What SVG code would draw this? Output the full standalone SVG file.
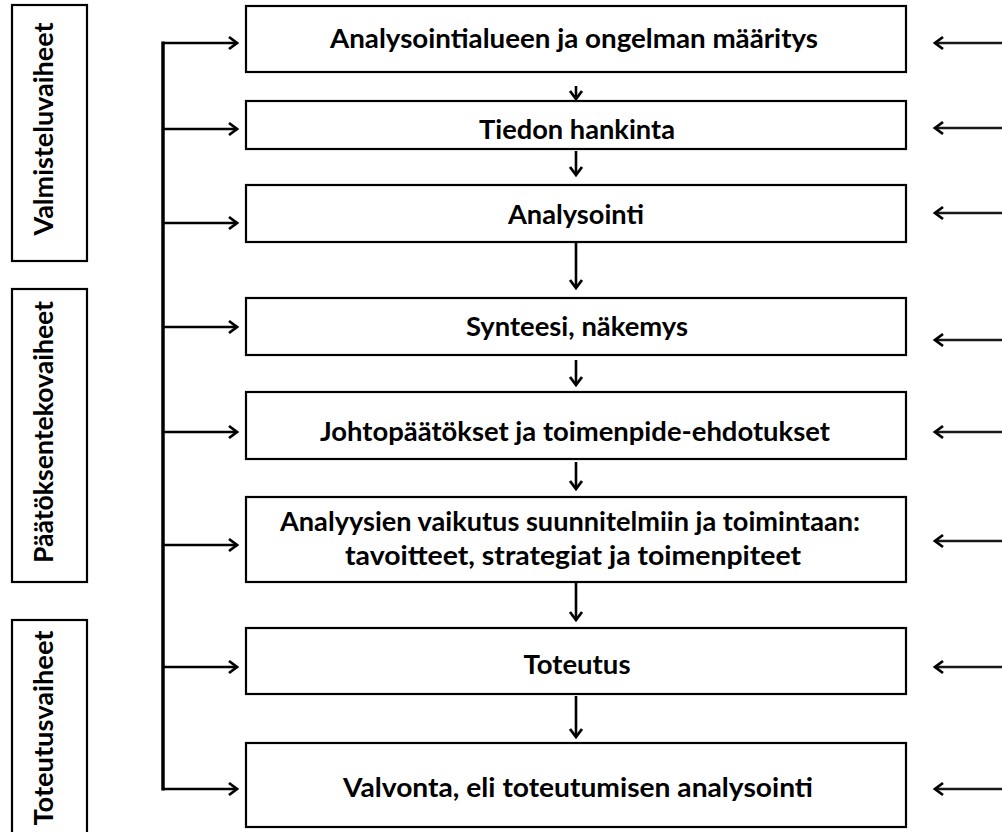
<svg xmlns="http://www.w3.org/2000/svg" width="1002" height="832" viewBox="0 0 1002 832">
<style>
.box{fill:#fff;stroke:#000;stroke-width:2.2}
.t{font-family:Lato,"Open Sans","Liberation Sans",sans-serif;font-weight:700;font-size:27px;fill:#000;text-anchor:middle}
.ln{stroke:#000;stroke-width:2.6;fill:none}
.rl{stroke:#1a1a1a;stroke-width:2.6;fill:none}
.hd{stroke:#000;stroke-width:2.8;fill:none;stroke-linecap:butt;stroke-linejoin:miter}
</style>
<rect width="1002" height="832" fill="#fff"/>
<g id="phase-valmistelu">
<rect class="box" x="12" y="5" width="75" height="256"/>
<text class="t" transform="translate(53,129) rotate(-90)" textLength="213" lengthAdjust="spacingAndGlyphs">Valmisteluvaiheet</text>
</g>
<g id="phase-paatoksenteko">
<rect class="box" x="12" y="289" width="75" height="293"/>
<text class="t" transform="translate(53,432) rotate(-90)" textLength="262" lengthAdjust="spacingAndGlyphs">Päätöksentekovaiheet</text>
</g>
<g id="phase-toteutus">
<rect class="box" x="12" y="620" width="75" height="218"/>
<text class="t" transform="translate(53,728) rotate(-90)" textLength="195" lengthAdjust="spacingAndGlyphs">Toteutusvaiheet</text>
</g>
<g id="n1"><rect class="box" x="246" y="6" width="660" height="66"/><text class="t" x="574" y="48" textLength="488" lengthAdjust="spacingAndGlyphs">Analysointialueen ja ongelman määritys</text></g>
<g id="n2"><rect class="box" x="246" y="101" width="660" height="48"/><text class="t" x="577" y="139" textLength="196" lengthAdjust="spacingAndGlyphs">Tiedon hankinta</text></g>
<g id="n3"><rect class="box" x="246" y="185" width="660" height="57"/><text class="t" x="576" y="224" textLength="136" lengthAdjust="spacingAndGlyphs">Analysointi</text></g>
<g id="n4"><rect class="box" x="246" y="298" width="660" height="57"/><text class="t" x="577" y="336" textLength="222" lengthAdjust="spacingAndGlyphs">Synteesi, näkemys</text></g>
<g id="n5"><rect class="box" x="246" y="392" width="660" height="67"/><text class="t" x="575" y="441" textLength="510" lengthAdjust="spacingAndGlyphs">Johtopäätökset ja toimenpide-ehdotukset</text></g>
<g id="n6"><rect class="box" x="246" y="497" width="660" height="85"/><text class="t" x="570" y="531" textLength="580" lengthAdjust="spacingAndGlyphs">Analyysien vaikutus suunnitelmiin ja toimintaan:</text><text class="t" x="573" y="565" textLength="456" lengthAdjust="spacingAndGlyphs">tavoitteet, strategiat ja toimenpiteet</text></g>
<g id="n7"><rect class="box" x="246" y="628" width="660" height="66"/><text class="t" x="577" y="674" textLength="107" lengthAdjust="spacingAndGlyphs">Toteutus</text></g>
<g id="n8"><rect class="box" x="246" y="743" width="660" height="84"/><text class="t" x="578" y="797" textLength="470" lengthAdjust="spacingAndGlyphs">Valvonta, eli toteutumisen analysointi</text></g>
<g id="connectors">
<line x1="163" y1="41.5" x2="163" y2="790.5" stroke="#000" stroke-width="3.5"/>
<g class="ln">
<line x1="163" y1="43" x2="236" y2="43"/>
<line x1="163" y1="129" x2="236" y2="129"/>
<line x1="163" y1="223" x2="236" y2="223"/>
<line x1="163" y1="327" x2="236" y2="327"/>
<line x1="163" y1="432" x2="236" y2="432"/>
<line x1="163" y1="545" x2="236" y2="545"/>
<line x1="163" y1="667" x2="236" y2="667"/>
<line x1="163" y1="789" x2="236" y2="789"/>
</g>
<g class="hd">
<polyline points="229,37 237,43 229,49"/>
<polyline points="229,123 237,129 229,135"/>
<polyline points="229,217 237,223 229,229"/>
<polyline points="229,321 237,327 229,333"/>
<polyline points="229,426 237,432 229,438"/>
<polyline points="229,539 237,545 229,551"/>
<polyline points="229,661 237,667 229,673"/>
<polyline points="229,783 237,789 229,795"/>
</g>
<g class="rl">
<line x1="1002" y1="43" x2="937" y2="43"/>
<line x1="1002" y1="128" x2="937" y2="128"/>
<line x1="1002" y1="213" x2="937" y2="213"/>
<line x1="1002" y1="340" x2="937" y2="340"/>
<line x1="1002" y1="432" x2="937" y2="432"/>
<line x1="1002" y1="541" x2="937" y2="541"/>
<line x1="1002" y1="667" x2="937" y2="667"/>
<line x1="1002" y1="789" x2="937" y2="789"/>
</g>
<g class="hd">
<polyline points="943,37 935,43 943,49"/>
<polyline points="943,122 935,128 943,134"/>
<polyline points="943,207 935,213 943,219"/>
<polyline points="943,334 935,340 943,346"/>
<polyline points="943,426 935,432 943,438"/>
<polyline points="943,535 935,541 943,547"/>
<polyline points="943,661 935,667 943,673"/>
<polyline points="943,783 935,789 943,795"/>
</g>
<g class="ln">
<line x1="576" y1="86" x2="576" y2="98"/>
<line x1="576" y1="151" x2="576" y2="174"/>
<line x1="576" y1="243" x2="576" y2="287"/>
<line x1="576" y1="360" x2="576" y2="384"/>
<line x1="576" y1="462" x2="576" y2="488"/>
<line x1="576" y1="583" x2="576" y2="619"/>
<line x1="576" y1="696" x2="576" y2="736"/>
</g>
<g class="hd">
<polyline points="570,91 576,99 582,91"/>
<polyline points="570,167 576,175 582,167"/>
<polyline points="570,280 576,288 582,280"/>
<polyline points="570,377 576,385 582,377"/>
<polyline points="570,481 576,489 582,481"/>
<polyline points="570,612 576,620 582,612"/>
<polyline points="570,729 576,737 582,729"/>
</g>
</g>
</svg>
